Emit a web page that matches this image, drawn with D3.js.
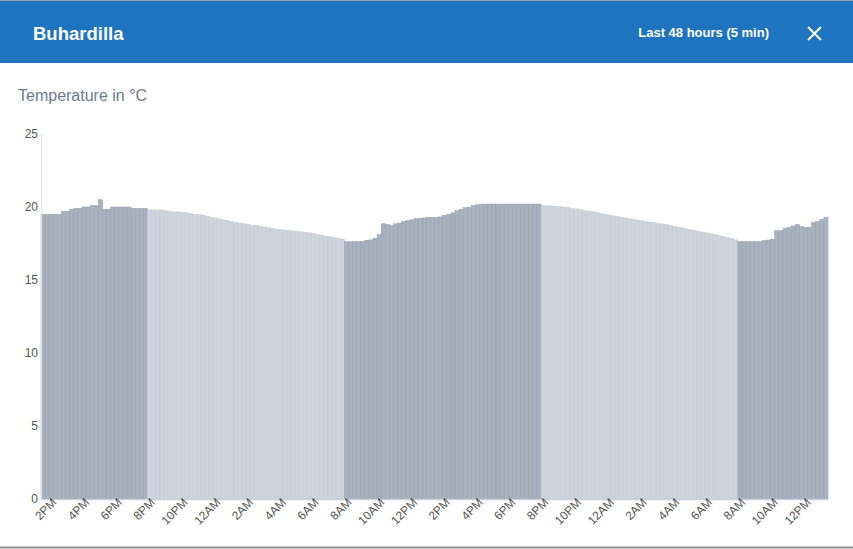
<!DOCTYPE html>
<html lang="en">
  <head>
    <meta charset="utf-8">
    <title>Buhardilla</title>
    <script src="https://cdn.jsdelivr.net/npm/d3@7"></script>
    <style>
      body { margin: 0; background: #fff; font-family: "Liberation Sans", Arial, sans-serif; }
      .axis text { font-family: "Liberation Sans", Arial, sans-serif; fill: #555; }
      .axis .domain { display: none; }
      .axis line { display: none; }
    </style>
  </head>
  <body>
    <script>
      // temperature readings, one every 15 minutes, starting 1:30PM
      var afternoon1 = [19.5, 19.5, 19.5, 19.5, 19.5, 19.7, 19.7, 19.85, 19.9, 19.9,
        20.0, 20.0, 20.1, 20.1, 20.5, 19.85, 19.85, 20.0, 20.0, 20.0, 20.0, 20.0,
        19.9, 19.9, 19.9, 19.9];
      var night1 = [19.8, 19.8, 19.8, 19.8, 19.75, 19.7, 19.66, 19.66, 19.63, 19.6,
        19.55, 19.5, 19.5, 19.45, 19.38, 19.3, 19.25, 19.18, 19.12, 19.07,
        19.0, 18.95, 18.9, 18.85, 18.8, 18.75, 18.72, 18.68, 18.63, 18.58,
        18.53, 18.48, 18.45, 18.42, 18.4, 18.37, 18.33, 18.3, 18.26, 18.23,
        18.18, 18.12, 18.06, 18.0, 17.95, 17.9, 17.85, 17.8];
      var day2 = [17.62, 17.62, 17.62, 17.62, 17.65, 17.72, 17.75, 17.85, 18.1, 18.85,
        18.8, 18.72, 18.85, 18.9, 19.0, 19.06, 19.12, 19.2, 19.22, 19.25,
        19.3, 19.3, 19.3, 19.32, 19.42, 19.5, 19.6, 19.75, 19.85, 19.95,
        20.0, 20.1, 20.15, 20.2, 20.2, 20.2, 20.2, 20.2, 20.2, 20.2,
        20.2, 20.2, 20.2, 20.2, 20.2, 20.2, 20.2, 20.2];
      var night2 = [20.1, 20.1, 20.08, 20.05, 20.03, 20.0, 19.97, 19.9, 19.87, 19.82,
        19.78, 19.73, 19.68, 19.63, 19.58, 19.52, 19.46, 19.4, 19.35, 19.3,
        19.25, 19.2, 19.15, 19.1, 19.05, 19.0, 18.97, 18.93, 18.88, 18.84,
        18.8, 18.74, 18.68, 18.62, 18.56, 18.5, 18.45, 18.4, 18.33, 18.28,
        18.22, 18.16, 18.1, 18.03, 17.97, 17.9, 17.83, 17.75];
      var day3 = [17.62, 17.62, 17.62, 17.62, 17.62, 17.62, 17.7, 17.74, 17.8, 18.38,
        18.38, 18.55, 18.6, 18.7, 18.8, 18.65, 18.6, 18.62, 18.95, 19.0,
        19.15, 19.3];
      var yTicks = [0, 5, 10, 15, 20, 25];

      var temps = afternoon1.concat(night1, day2, night2, day3);
      var start = new Date(2024, 0, 1, 13, 30);
      var stepMin = 15;
      var data = temps.map(function (v, i) {
        return { t: d3.timeMinute.offset(start, i * stepMin), v: v };
      });
      var end = d3.timeMinute.offset(start, temps.length * stepMin);

      var w = 853, h = 549;
      var plotL = 41, plotR = 828, plotT = 134, plotB = 499;

      var svg = d3.select("body").append("svg")
        .attr("width", w)
        .attr("height", h);

      // header
      svg.append("rect")
        .attr("x", 0).attr("y", 0)
        .attr("width", w).attr("height", 63)
        .attr("fill", "#1f74bf");
      svg.append("line")
        .attr("x1", 0).attr("x2", w).attr("y1", 0.5).attr("y2", 0.5)
        .attr("stroke", "#9aa4ad");
      svg.append("text")
        .attr("x", 33).attr("y", 40)
        .attr("fill", "#fff")
        .attr("font-size", 18.5)
        .attr("font-weight", "bold")
        .text("Buhardilla");
      svg.append("text")
        .attr("x", 769).attr("y", 37)
        .attr("text-anchor", "end")
        .attr("fill", "#fff")
        .attr("font-size", 13)
        .attr("font-weight", "bold")
        .text("Last 48 hours (5 min)");
      svg.append("path")
        .attr("d", "M808,27L821,40M821,27L808,40")
        .attr("stroke", "#fff")
        .attr("stroke-width", 2);

      svg.append("text")
        .attr("x", 18).attr("y", 101)
        .attr("fill", "#6f7b8a")
        .attr("font-size", 16)
        .text("Temperature in °C");

      var xScale = d3.scaleTime()
        .domain([start, end])
        .range([plotL, plotR]);
      var yScale = d3.scaleLinear()
        .domain([0, 25])
        .range([plotB, plotT]);

      var barW = xScale(d3.timeMinute.offset(start, stepMin)) - xScale(start);

      function isDay(d) {
        var hr = d.t.getHours();
        return hr >= 8 && hr < 20;
      }

      svg.append("g")
        .selectAll("rect")
        .data(data)
        .enter()
        .append("rect")
        .attr("x", function (d) { return xScale(d.t); })
        .attr("y", function (d) { return yScale(d.v); })
        .attr("width", barW)
        .attr("height", function (d) { return plotB - yScale(d.v); })
        .attr("fill", function (d) { return isDay(d) ? "#a8b1be" : "#cfd4dc"; })
        .attr("stroke", function (d) { return isDay(d) ? "#939eae" : "#c2c8d1"; })
        .attr("stroke-width", 0.5);

      // y axis line
      svg.append("line")
        .attr("x1", plotL + 0.5).attr("x2", plotL + 0.5)
        .attr("y1", plotT).attr("y2", plotB)
        .attr("stroke", "#e0e0e0");

      // x baseline
      svg.append("line")
        .attr("x1", plotL).attr("x2", plotR)
        .attr("y1", plotB + 0.5).attr("y2", plotB + 0.5)
        .attr("stroke", "#c6d1de")
        .attr("stroke-width", 1.5);

      var yAxis = d3.axisLeft(yScale)
        .tickValues(yTicks)
        .tickSize(0)
        .tickPadding(3);
      svg.append("g")
        .attr("class", "y axis")
        .attr("transform", "translate(" + plotL + ",0)")
        .call(yAxis)
        .selectAll("text")
        .attr("font-size", 12);

      var xAxis = d3.axisBottom(xScale)
        .ticks(d3.timeHour.every(2))
        .tickFormat(d3.timeFormat("%-I%p"))
        .tickSize(0);
      svg.append("g")
        .attr("class", "x axis")
        .attr("transform", "translate(0," + plotB + ")")
        .call(xAxis)
        .selectAll("text")
        .attr("font-size", 12)
        .attr("text-anchor", "end")
        .attr("dx", "0.2em")
        .attr("dy", "0.45em")
        .attr("transform", "rotate(-45)");

      svg.append("line")
        .attr("x1", 0).attr("x2", w).attr("y1", 547.5).attr("y2", 547.5)
        .attr("stroke", "#8a8f94")
        .attr("stroke-width", 2);
    </script>
  </body>
</html>
